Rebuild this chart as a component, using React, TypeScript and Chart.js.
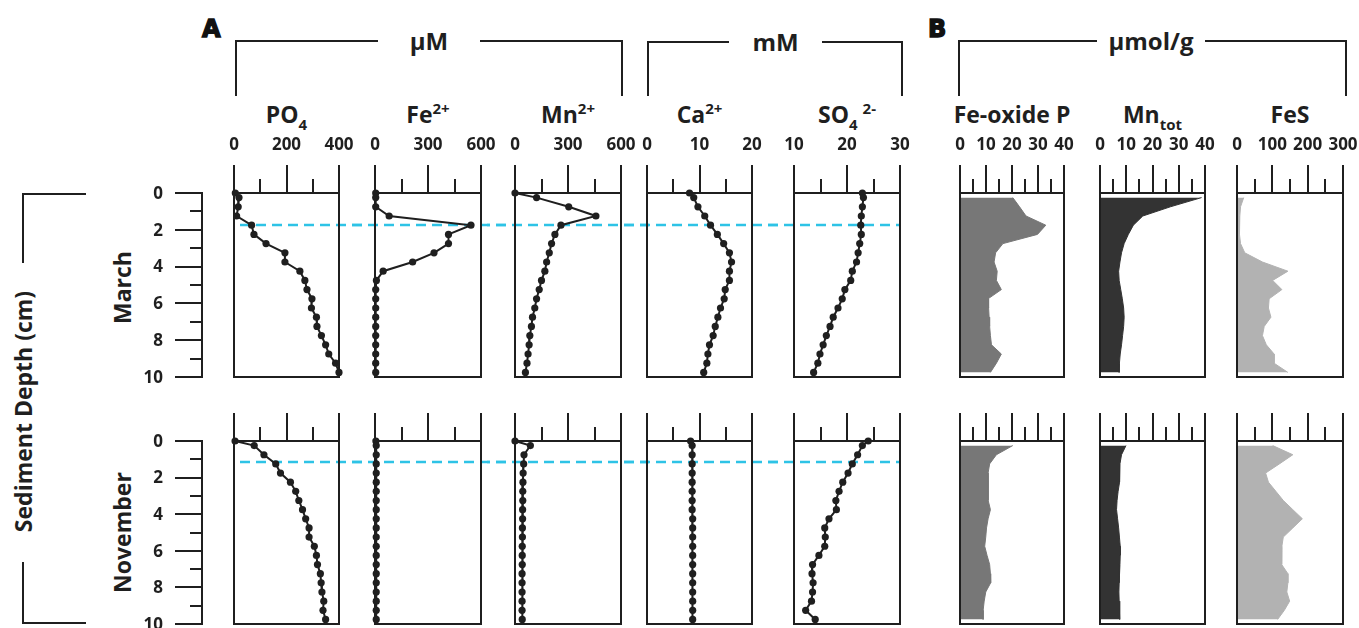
import React, { useEffect, useRef } from "react";
import { Chart, registerables } from "chart.js";
Chart.register(...registerables);

// ---------------- data ----------------
const depthPore = [0, 0.25, 0.75, 1.25, 1.75, 2.25, 2.75, 3.25, 3.75, 4.25, 4.75, 5.25, 5.75, 6.25, 6.75, 7.25, 7.75, 8.25, 8.75, 9.25, 9.75];
const depthSolid = [0.25, 0.75, 1.25, 1.75, 2.25, 2.75, 3.25, 3.75, 4.25, 4.75, 5.25, 5.75, 6.25, 6.75, 7.25, 7.75, 8.25, 8.75, 9.25, 9.75];

const po4March = [5, 19, 16, 10, 67, 76, 122, 194, 194, 251, 270, 278, 297, 295, 314, 316, 333, 349, 361, 387, 400];
const fe2March = [4, 4, 4, 80, 543, 416, 416, 334, 213, 46, 8, 4, 4, 4, 4, 4, 4, 4, 4, 4, 4];
const mn2March = [0, 122, 304, 458, 260, 226, 207, 194, 179, 169, 150, 137, 122, 112, 99, 93, 84, 80, 74, 68, 59];
const ca2March = [8.1, 8.9, 9.7, 11.0, 12.1, 13.4, 14.6, 15.7, 16.1, 15.7, 15.7, 14.9, 14.7, 14.0, 13.5, 13.0, 12.6, 11.9, 11.6, 11.4, 10.8];
const so4March = [22.9, 23.1, 22.9, 22.7, 22.6, 22.7, 22.4, 22.1, 21.8, 21.0, 20.7, 19.6, 19.1, 18.3, 17.4, 16.8, 16.1, 15.5, 14.9, 14.5, 13.7];

const po4Nov = [4, 77, 114, 159, 177, 215, 235, 247, 261, 273, 286, 286, 306, 314, 318, 329, 332, 335, 342, 339, 349];
const fe2Nov = [5, 7, 7, 7, 7, 7, 7, 7, 7, 7, 7, 7, 7, 7, 7, 7, 7, 7, 7, 7, 7];
const mn2Nov = [0, 87, 51, 49, 46, 45, 44, 44, 43, 43, 42, 42, 41, 41, 41, 40, 40, 40, 40, 40, 41];
const ca2Nov = [8.3, 8.6, 8.6, 8.6, 8.6, 8.6, 8.6, 8.6, 8.6, 8.7, 8.7, 8.7, 8.7, 8.7, 8.7, 8.7, 8.7, 8.7, 8.7, 8.7, 8.7];
const so4Nov = [24.0, 22.9, 22.0, 21.0, 20.2, 19.2, 18.5, 17.9, 18.0, 16.6, 15.8, 15.9, 15.8, 14.7, 13.5, 13.4, 13.6, 13.5, 13.3, 12.2, 14.0];

const feoxpMarch = [20.3, 22.9, 25.4, 33.0, 29.8, 16.5, 13.7, 13.1, 14.3, 14.0, 15.9, 10.8, 11.0, 11.2, 11.4, 11.7, 12.1, 15.9, 14.0, 11.7];
const mntotMarch = [38.7, 26.8, 16.3, 12.7, 10.8, 9.2, 8.2, 7.6, 7.1, 7.3, 7.9, 8.5, 9.0, 9.2, 9.0, 8.6, 8.2, 7.7, 7.4, 7.3];
const fesMarch = [19, 10, 8, 7, 7, 10, 22, 72, 144, 101, 127, 91, 89, 96, 77, 72, 83, 105, 105, 144];

const feoxpNov = [20.3, 14.0, 11.4, 10.8, 10.8, 10.8, 10.9, 11.7, 10.8, 10.2, 9.9, 9.5, 10.4, 11.4, 11.7, 11.8, 9.9, 9.3, 8.9, 8.9];
const mntotNov = [9.9, 8.2, 7.6, 7.6, 7.3, 6.9, 6.5, 6.3, 6.7, 7.1, 7.4, 7.7, 7.7, 7.6, 7.3, 7.3, 7.2, 7.3, 7.4, 7.6];
const fesNov = [101, 158, 120, 81, 89, 110, 131, 158, 185, 158, 131, 127, 127, 126, 144, 144, 141, 149, 134, 115];

const refDepthMarch = 1.75;
const refDepthNov = 1.15;

const po4Major = [0, 200, 400];
const po4Minor = [100, 300];
const mMajor600 = [0, 300, 600];
const mMinor600 = [150, 450];
const caMajor = [0, 10, 20];
const caMinor = [5, 15];
const so4Major = [10, 20, 30];
const so4Minor = [15, 25];
const b40Major = [0, 10, 20, 30, 40];
const b40Minor = [5, 15, 25, 35];
const fesMajor = [0, 100, 200, 300];
const fesMinor = [50, 150, 250];
const depthMajor = [0, 2, 4, 6, 8, 10];
const depthMinor = [1, 3, 5, 7, 9];

// ---------------- styling ----------------
const FONT = '"Open Sans", "Noto Sans", "DejaVu Sans", sans-serif';
const INK = "#1f1f1f";
const CYAN = "#2ec3e6";
const GRAY_MID = "#777777";
const GRAY_DARK = "#333333";
const GRAY_LIGHT = "#b2b2b2";

const ROWS = [
  { key: "march", top: 193, bottom: 377, labels: true, refDepth: refDepthMarch, name: "March", seriesIndex: 0 },
  { key: "nov", top: 441, bottom: 624, labels: false, refDepth: refDepthNov, name: "November", seriesIndex: 1 },
];

const PANELS: any[] = [
  { id: "po4", left: 234, right: 339, min: 0, max: 400, major: po4Major, minor: po4Minor, kind: "dots", color: INK, series: [po4March, po4Nov], ref: "start" },
  { id: "fe", left: 375, right: 481, min: 0, max: 600, major: mMajor600, minor: mMinor600, kind: "dots", color: INK, series: [fe2March, fe2Nov], ref: "mid" },
  { id: "mn", left: 515, right: 621, min: 0, max: 600, major: mMajor600, minor: mMinor600, kind: "dots", color: INK, series: [mn2March, mn2Nov], ref: "mid" },
  { id: "ca", left: 647, right: 752, min: 0, max: 20, major: caMajor, minor: caMinor, kind: "dots", color: INK, series: [ca2March, ca2Nov], ref: "mid" },
  { id: "so4", left: 794, right: 900, min: 10, max: 30, major: so4Major, minor: so4Minor, kind: "dots", color: INK, series: [so4March, so4Nov], ref: "end" },
  { id: "feoxp", left: 960, right: 1064, min: 0, max: 40, major: b40Major, minor: b40Minor, kind: "area", color: GRAY_MID, series: [feoxpMarch, feoxpNov], ref: null },
  { id: "mntot", left: 1100, right: 1205, min: 0, max: 40, major: b40Major, minor: b40Minor, kind: "area", color: GRAY_DARK, series: [mntotMarch, mntotNov], ref: null },
  { id: "fes", left: 1237, right: 1343, min: 0, max: 300, major: fesMajor, minor: fesMinor, kind: "area", color: GRAY_LIGHT, series: [fesMarch, fesNov], ref: null },
];

// ---------------- plugins ----------------
const panelDecor = {
  id: "panelDecor",
  beforeDatasetsDraw(chart: any, _args: any, opts: any) {
    if (opts.refDepth == null || !opts.ref) return;
    const { ctx, chartArea: a, scales } = chart;
    const y = Math.round(scales.y.getPixelForValue(opts.refDepth));
    const x0 = opts.ref === "start" ? a.left : 0;
    const x1 = opts.ref === "end" ? a.right : chart.width;
    ctx.save();
    ctx.strokeStyle = CYAN;
    ctx.lineWidth = 2.5;
    ctx.setLineDash([10, 6]);
    ctx.lineDashOffset = (((opts.pageLeft + x0) % 16) + 16) % 16;
    ctx.beginPath();
    ctx.moveTo(x0, y);
    ctx.lineTo(x1, y);
    ctx.stroke();
    ctx.restore();
  },
  afterDatasetsDraw(chart: any, _args: any, opts: any) {
    const { ctx, chartArea: a, scales } = chart;
    ctx.save();
    ctx.strokeStyle = INK;
    ctx.lineWidth = 2;
    ctx.setLineDash([]);
    ctx.strokeRect(a.left, a.top, a.right - a.left, a.bottom - a.top);
    const tick = (v: number, len: number) => {
      const x = Math.round(scales.x.getPixelForValue(v));
      ctx.beginPath();
      ctx.moveTo(x, a.top);
      ctx.lineTo(x, a.top - len);
      ctx.stroke();
    };
    opts.major.forEach((v: number) => tick(v, 28));
    opts.minor.forEach((v: number) => tick(v, 14));
    if (opts.labels) {
      ctx.fillStyle = INK;
      ctx.font = `bold 17px ${FONT}`;
      ctx.textAlign = "center";
      ctx.textBaseline = "alphabetic";
      opts.major.forEach((v: number) => {
        const x = scales.x.getPixelForValue(v);
        ctx.fillText(String(v), x, a.top - 43);
      });
    }
    ctx.restore();
  },
};

const depthAxisDecor = {
  id: "depthAxisDecor",
  afterDraw(chart: any) {
    const { ctx, chartArea: a, scales } = chart;
    ctx.save();
    ctx.strokeStyle = INK;
    ctx.lineWidth = 2;
    const x = a.left;
    ctx.beginPath();
    ctx.moveTo(x, scales.y.getPixelForValue(0));
    ctx.lineTo(x, scales.y.getPixelForValue(10));
    ctx.stroke();
    const tick = (v: number, len: number) => {
      const y = Math.round(scales.y.getPixelForValue(v));
      ctx.beginPath();
      ctx.moveTo(x + 1, y);
      ctx.lineTo(x - len, y);
      ctx.stroke();
    };
    depthMajor.forEach((v) => tick(v, 27));
    depthMinor.forEach((v) => tick(v, 12));
    ctx.fillStyle = INK;
    ctx.font = `bold 17px ${FONT}`;
    ctx.textAlign = "right";
    ctx.textBaseline = "middle";
    depthMajor.forEach((v) => {
      ctx.fillText(String(v), x - 39, scales.y.getPixelForValue(v) + 1);
    });
    ctx.restore();
  },
};

// ---------------- components ----------------
function PanelChart({ panel, row }: { panel: any; row: any }) {
  const ref = useRef<HTMLCanvasElement>(null);
  const padX = 28;
  const canvasTop = row.labels ? 126 : row.top - 36;
  const canvasLeft = panel.left - padX;
  const width = panel.right - panel.left + 2 * padX;
  const height = row.bottom + 10 - canvasTop;
  useEffect(() => {
    const values: number[] = panel.series[row.seriesIndex];
    const depths = panel.kind === "dots" ? depthPore : depthSolid;
    const data = depths.map((d, i) => ({ x: values[i], y: d }));
    const ds: any =
      panel.kind === "dots"
        ? {
            data,
            borderColor: INK,
            borderWidth: 2,
            pointRadius: 3.6,
            pointBackgroundColor: INK,
            pointBorderColor: INK,
            pointBorderWidth: 0,
            fill: false,
            tension: 0,
            clip: false,
          }
        : {
            data,
            borderColor: panel.color,
            borderWidth: 1,
            backgroundColor: panel.color,
            pointRadius: 0,
            fill: "origin",
            tension: 0,
            clip: false,
          };
    const chart = new Chart(ref.current as HTMLCanvasElement, {
      type: "line",
      data: { datasets: [ds] },
      options: {
        indexAxis: "y",
        animation: false,
        responsive: false,
        events: [],
        layout: {
          padding: {
            left: padX,
            right: padX,
            top: row.top - canvasTop,
            bottom: height - (row.bottom - canvasTop),
          },
        },
        scales: {
          x: { type: "linear", display: false, min: panel.min, max: panel.max },
          y: { type: "linear", display: false, min: 0, max: 10, reverse: true },
        },
        plugins: {
          legend: { display: false },
          tooltip: { enabled: false },
          panelDecor: {
            major: panel.major,
            minor: panel.minor,
            labels: row.labels,
            refDepth: row.refDepth,
            ref: panel.ref,
            pageLeft: canvasLeft,
          },
        } as any,
      } as any,
      plugins: [panelDecor as any],
    });
    return () => chart.destroy();
  }, []);
  return (
    <canvas
      ref={ref}
      width={width}
      height={height}
      style={{ position: "absolute", left: canvasLeft, top: canvasTop, width, height }}
    />
  );
}

function DepthAxis({ row }: { row: any }) {
  const ref = useRef<HTMLCanvasElement>(null);
  const canvasLeft = 120;
  const axisX = 202;
  const width = 100;
  const canvasTop = row.top - 14;
  const height = row.bottom - row.top + 28;
  useEffect(() => {
    const chart = new Chart(ref.current as HTMLCanvasElement, {
      type: "line",
      data: { datasets: [] },
      options: {
        animation: false,
        responsive: false,
        events: [],
        layout: { padding: { left: axisX - canvasLeft, right: width - (axisX - canvasLeft) - 10, top: 14, bottom: 14 } },
        scales: {
          x: { type: "linear", display: false, min: 0, max: 1 },
          y: { type: "linear", display: false, min: 0, max: 10, reverse: true },
        },
        plugins: { legend: { display: false }, tooltip: { enabled: false } },
      } as any,
      plugins: [depthAxisDecor as any],
    });
    return () => chart.destroy();
  }, []);
  return (
    <canvas
      ref={ref}
      width={width}
      height={height}
      style={{ position: "absolute", left: canvasLeft, top: canvasTop, width, height }}
    />
  );
}

const Sup = ({ children, ml = 0 }: any) => (
  <span style={{ fontSize: 15, position: "relative", top: -9, lineHeight: 0, marginLeft: ml }}>{children}</span>
);
const Sub = ({ children }: any) => (
  <span style={{ fontSize: 15, position: "relative", top: 7, lineHeight: 0 }}>{children}</span>
);

const TITLES: Record<string, React.ReactNode> = {
  po4: (<>PO<Sub>4</Sub></>),
  fe: (<>Fe<Sup>2+</Sup></>),
  mn: (<>Mn<Sup>2+</Sup></>),
  ca: (<>Ca<Sup>2+</Sup></>),
  so4: (<>SO<Sub>4</Sub><Sup ml={5}>2-</Sup></>),
  feoxp: (<>Fe-oxide P</>),
  mntot: (<>Mn<Sub>tot</Sub></>),
  fes: (<>FeS</>),
};

function Line({ x1, y1, x2, y2 }: any) {
  const horiz = y1 === y2;
  return (
    <div
      style={{
        position: "absolute",
        left: horiz ? Math.min(x1, x2) : x1 - 1,
        top: horiz ? y1 - 1 : Math.min(y1, y2),
        width: horiz ? Math.abs(x2 - x1) : 2,
        height: horiz ? 2 : Math.abs(y2 - y1),
        background: INK,
      }}
    />
  );
}

function Bracket({ left, right, top, bottom, gapL, gapR, label }: any) {
  return (
    <>
      <Line x1={left} y1={top} x2={left} y2={bottom} />
      <Line x1={right} y1={top} x2={right} y2={bottom} />
      <Line x1={left - 1} y1={top} x2={gapL} y2={top} />
      <Line x1={gapR} y1={top} x2={right + 1} y2={top} />
      <div
        style={{
          position: "absolute",
          left: (gapL + gapR) / 2 - 100,
          width: 200,
          top: top - 12,
          fontSize: 24,
          lineHeight: "24px",
          fontWeight: 700,
          fontFamily: FONT,
          textAlign: "center",
          color: INK,
        }}
      >
        {label}
      </div>
    </>
  );
}

function Rotated({ cx, cy, text, size }: any) {
  return (
    <div
      style={{
        position: "absolute",
        left: cx - 200,
        top: cy - size / 2,
        width: 400,
        height: size,
        lineHeight: `${size}px`,
        fontSize: size,
        fontWeight: 700,
        fontFamily: FONT,
        textAlign: "center",
        color: INK,
        transform: "rotate(-90deg)",
        transformOrigin: "50% 50%",
        whiteSpace: "nowrap",
      }}
    >
      {text}
    </div>
  );
}

const letterStyle: React.CSSProperties = {
  position: "absolute",
  top: 17,
  fontSize: 24,
  lineHeight: "24px",
  fontWeight: 900,
  fontFamily: '"DejaVu Sans", sans-serif',
  WebkitTextStroke: "1.4px #111",
  color: "#111",
};

export default function App() {
  return (
    <div
      style={{
        position: "absolute",
        left: 0,
        top: 0,
        width: 1359,
        height: 628,
        background: "#ffffff",
        overflow: "hidden",
        fontFamily: FONT,
        color: INK,
      }}
    >
      {/* panel letters */}
      <div style={{ ...letterStyle, left: 202 }}>A</div>
      <div style={{ ...letterStyle, left: 928 }}>B</div>

      {/* unit brackets */}
      <Bracket left={236} right={622} top={41} bottom={96} gapL={378} gapR={480} label="µM" />
      <Bracket left={648} right={902} top={42} bottom={96} gapL={729} gapR={822} label="mM" />
      <Bracket left={959} right={1346} top={41} bottom={96} gapL={1097} gapR={1205} label="µmol/g" />

      {/* panel titles */}
      {PANELS.map((p) => (
        <div
          key={"t" + p.id}
          style={{
            position: "absolute",
            left: (p.left + p.right) / 2 - 100,
            width: 200,
            top: 103,
            fontSize: 23,
            lineHeight: "23px",
            fontWeight: 700,
            fontFamily: FONT,
            textAlign: "center",
            whiteSpace: "nowrap",
          }}
        >
          {TITLES[p.id]}
        </div>
      ))}

      {/* depth bracket and labels */}
      <Line x1={22} y1={194} x2={86} y2={194} />
      <Line x1={23} y1={193} x2={23} y2={263} />
      <Line x1={23} y1={562} x2={23} y2={624} />
      <Line x1={22} y1={623} x2={86} y2={623} />
      <Rotated cx={23} cy={411} text="Sediment Depth (cm)" size={23} />
      {ROWS.map((r) => (
        <Rotated key={"r" + r.key} cx={122} cy={(r.top + r.bottom) / 2 - (r.key === "march" ? -2 : 0)} text={r.name} size={23} />
      ))}

      {ROWS.map((r) => (
        <DepthAxis key={"d" + r.key} row={r} />
      ))}

      {ROWS.map((r) =>
        PANELS.map((p) => <PanelChart key={r.key + p.id} panel={p} row={r} />)
      )}
    </div>
  );
}
